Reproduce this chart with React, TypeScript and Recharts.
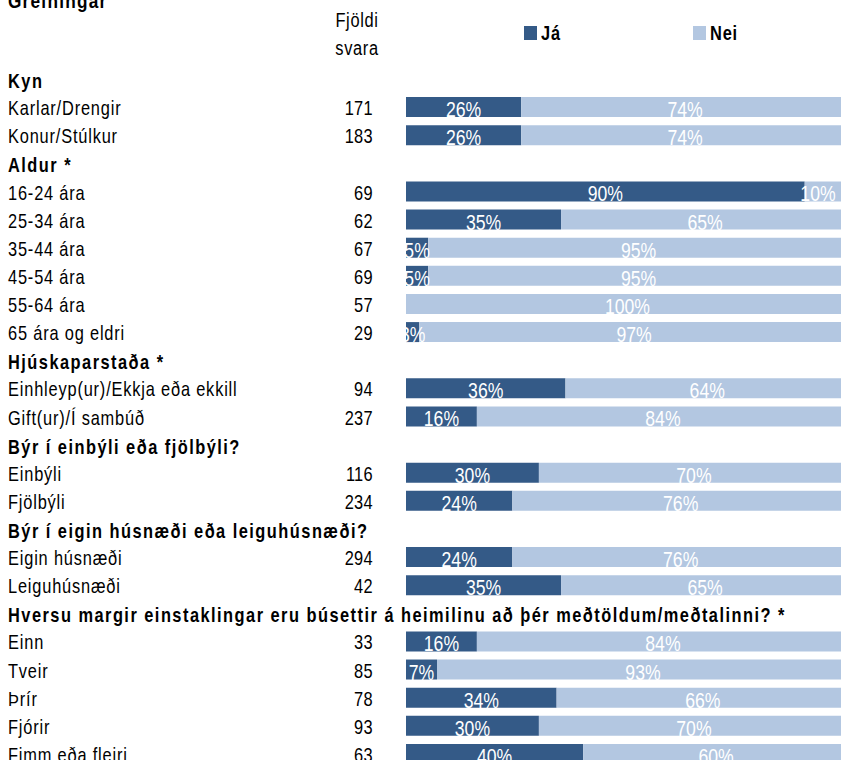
import React from 'react'
import { BarChart, Bar, XAxis, YAxis, LabelList } from 'recharts'

// ─── Data ────────────────────────────────────────────────────────────────────

const rows = [
  'Kyn',
  'Karlar/Drengir',
  'Konur/Stúlkur',
  'Aldur *',
  '16-24 ára',
  '25-34 ára',
  '35-44 ára',
  '45-54 ára',
  '55-64 ára',
  '65 ára og eldri',
  'Hjúskaparstaða *',
  'Einhleyp(ur)/Ekkja eða ekkill',
  'Gift(ur)/Í sambúð',
  'Býr í einbýli eða fjölbýli?',
  'Einbýli',
  'Fjölbýli',
  'Býr í eigin húsnæði eða leiguhúsnæði?',
  'Eigin húsnæði',
  'Leiguhúsnæði',
  'Hversu margir einstaklingar eru búsettir á heimilinu að þér meðtöldum/meðtalinni? *',
  'Einn',
  'Tveir',
  'Þrír',
  'Fjórir',
  'Fimm eða fleiri',
]

const headerRows = [
  'Kyn',
  'Aldur *',
  'Hjúskaparstaða *',
  'Býr í einbýli eða fjölbýli?',
  'Býr í eigin húsnæði eða leiguhúsnæði?',
  'Hversu margir einstaklingar eru búsettir á heimilinu að þér meðtöldum/meðtalinni? *',
]

const counts = [
  null, 171, 183,
  null, 69, 62, 67, 69, 57, 29,
  null, 94, 237,
  null, 116, 234,
  null, 294, 42,
  null, 33, 85, 78, 93, 63,
]

const jaValues = [
  null, 26, 26,
  null, 90, 35, 5, 5, 0, 3,
  null, 36, 16,
  null, 30, 24,
  null, 24, 35,
  null, 16, 7, 34, 30, 40,
]

const neiValues = [
  null, 74, 74,
  null, 10, 65, 95, 95, 100, 97,
  null, 64, 84,
  null, 70, 76,
  null, 76, 65,
  null, 84, 93, 66, 70, 60,
]

const seriesNames = ['Já', 'Nei']
const COLORS = ['#345a87', '#b3c7e1']

const FONT = '"Liberation Sans", Arial, sans-serif'
const SQUEEZE = 0.82 // the original text is drawn in a narrow face

const data = rows.map((label, i) => ({
  label,
  ja: jaValues[i],
  nei: neiValues[i],
}))

// narrow text: scaled horizontally around its anchor point
function NarrowText({ x, y, children, anchor = 'start', bold = false, size = 20, spacing = 1, fill = '#000' }: any) {
  return (
    <text
      transform={`translate(${x} ${y}) scale(${SQUEEZE} 1)`}
      x={0}
      y={0}
      textAnchor={anchor}
      fontFamily={FONT}
      fontSize={size}
      fontWeight={bold ? 'bold' : 'normal'}
      letterSpacing={spacing}
      fill={fill}
    >
      {children}
    </text>
  )
}

// ─── Row labels (category + count) ───────────────────────────────────────────

function RowTick(props: any) {
  const { y, payload } = props
  const label = payload.value as string
  const i = rows.indexOf(label)
  const header = headerRows.includes(label)
  const n = counts[i]
  return (
    <g>
      <NarrowText x={8} y={y + (header ? 9 : 8)} bold={header} spacing={header ? 1.8 : 1}>
        {label}
      </NarrowText>
      {n != null && (
        <NarrowText x={373} y={y + 8} anchor="end" spacing={0.4}>
          {n}
        </NarrowText>
      )}
    </g>
  )
}

// ─── Percent labels inside the bars ──────────────────────────────────────────

function makeLabel(values: (number | null)[], key: string, clipLeft: boolean) {
  return (props: any) => {
    const vb = props.viewBox ?? props
    const { x, y, width, height } = vb
    const i = rows.indexOf(props.value)
    const v = values[i]
    if (!v) return null
    const cx = Math.min(x + width / 2, 818)
    const id = `clip-${key}-${i}`
    return (
      <g>
        {clipLeft && (
          <defs>
            <clipPath id={id}>
              <rect x={x} y={y - 6} width={600} height={height + 12} />
            </clipPath>
          </defs>
        )}
        <g clipPath={clipLeft ? `url(#${id})` : undefined}>
          <NarrowText x={cx} y={y + height} anchor="middle" size={21.5} spacing={0} fill="#fff">
            {`${v}%`}
          </NarrowText>
        </g>
      </g>
    )
  }
}

// ─── Main ────────────────────────────────────────────────────────────────────

export default function App() {
  return (
    <div
      style={{
        position: 'absolute',
        left: 0,
        top: 0,
        width: 841,
        height: 760,
        overflow: 'hidden',
        background: '#fff',
        fontFamily: FONT,
      }}
    >
      <div
        style={{
          position: 'absolute',
          left: 8,
          top: -11,
          fontSize: 21,
          fontWeight: 'bold',
          lineHeight: '24px',
          letterSpacing: 1.5,
          transform: `scaleX(${SQUEEZE})`,
          transformOrigin: 'left center',
        }}
      >
        Greiningar
      </div>
      <div
        style={{
          position: 'absolute',
          left: 317,
          top: 6,
          width: 80,
          textAlign: 'center',
          fontSize: 20,
          lineHeight: '28px',
          letterSpacing: 0.8,
          transform: `scaleX(${SQUEEZE})`,
        }}
      >
        Fjöldi
        <br />
        svara
      </div>
      {seriesNames.map((name, i) => (
        <div
          key={name}
          style={{
            position: 'absolute',
            left: i === 0 ? 524 : 693,
            top: 22,
            display: 'flex',
            alignItems: 'center',
            fontSize: 20,
            fontWeight: 'bold',
            lineHeight: '22px',
          }}
        >
          <span style={{ display: 'inline-block', width: 13, height: 14, background: COLORS[i], marginRight: 4 }} />
          <span style={{ display: 'inline-block', transform: `scaleX(${SQUEEZE})`, transformOrigin: 'left center', letterSpacing: 1 }}>
            {name}
          </span>
        </div>
      ))}
      <div style={{ position: 'absolute', left: 0, top: 0 }}>
        <BarChart
          width={849}
          height={768}
          data={data}
          layout="vertical"
          barSize={20}
          margin={{ top: 65, right: 0, bottom: 0, left: 0 }}
        >
          <XAxis type="number" domain={[0, 100]} hide />
          <YAxis
            type="category"
            dataKey="label"
            width={406}
            axisLine={false}
            tickLine={false}
            interval={0}
            tick={<RowTick />}
          />
          <Bar dataKey="ja" stackId="s" fill={COLORS[0]} isAnimationActive={false}>
            <LabelList dataKey="label" content={makeLabel(jaValues, 'ja', true)} />
          </Bar>
          <Bar dataKey="nei" stackId="s" fill={COLORS[1]} isAnimationActive={false}>
            <LabelList dataKey="label" content={makeLabel(neiValues, 'nei', false)} />
          </Bar>
        </BarChart>
      </div>
    </div>
  )
}
